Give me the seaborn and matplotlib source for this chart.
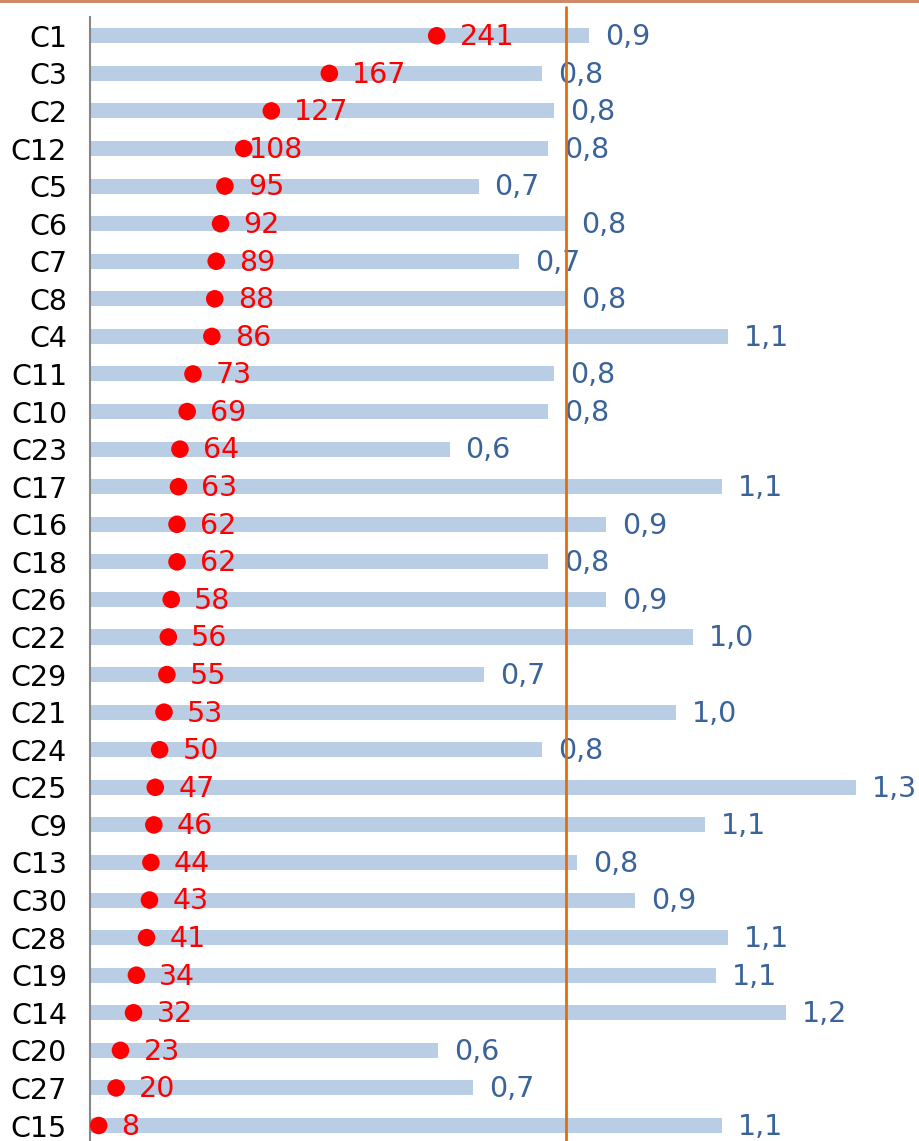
import numpy as np
import pandas as pd
import matplotlib
matplotlib.use("Agg")
import matplotlib.pyplot as plt
from matplotlib.patches import Rectangle
from matplotlib.ticker import FixedLocator
import seaborn as sns

# Categories, top to bottom
categories = ["C1", "C3", "C2", "C12", "C5", "C6", "C7", "C8", "C4", "C11",
              "C10", "C23", "C17", "C16", "C18", "C26", "C22", "C29", "C21", "C24",
              "C25", "C9", "C13", "C30", "C28", "C19", "C14", "C20", "C27", "C15"]
# Ratio per category (bars, lower axis)
ratios = [0.86, 0.78, 0.80, 0.79, 0.67, 0.82, 0.74, 0.82, 1.10, 0.80,
          0.79, 0.62, 1.09, 0.89, 0.79, 0.89, 1.04, 0.68, 1.01, 0.78,
          1.32, 1.06, 0.84, 0.94, 1.10, 1.08, 1.20, 0.60, 0.66, 1.09]
# Counts per category (red dots, secondary axis)
counts = [241, 167, 127, 108, 95, 92, 89, 88, 86, 73,
          69, 64, 63, 62, 62, 58, 56, 55, 53, 50,
          47, 46, 44, 43, 41, 34, 32, 23, 20, 8]
# Reference level on the ratio axis
reference_ratio = 0.82

df = pd.DataFrame({"cat": categories, "ratio": ratios, "count": counts})

sns.set_style("white")
plt.rcParams["font.family"] = ["DejaVu Sans"]

W, H = 920, 1141
fig = plt.figure(figsize=(W / 100, H / 100), dpi=100)

left_px, right_px = 90, 920
top_px, bottom_px = 17.0, 1144.3
ax = fig.add_axes([left_px / W, (H - bottom_px) / H,
                   (right_px - left_px) / W, (bottom_px - top_px) / H])

bar_color = "#B9CDE5"
label_blue = "#3A639A"
red = "#FF0000"
fs = 20.5
dy = 1.2  # small vertical nudge for data labels (points)

sns.barplot(data=df, x="ratio", y="cat", order=categories, orient="h",
            color=bar_color, saturation=1, width=0.4, linewidth=0,
            edgecolor="none", ax=ax, errorbar=None)

n = len(categories)
ax.set_ylim(n - 0.5, -0.5)
ax.set_xlim(0, (right_px - left_px) / 580.0)
ax.set_xlabel("")
ax.set_ylabel("")
ax.set_xticks([])

for s in ["top", "right", "bottom"]:
    ax.spines[s].set_visible(False)
ax.spines["left"].set_color("#868686")
ax.spines["left"].set_linewidth(1.5)

ax.tick_params(axis="y", which="major", length=0, pad=16.5,
               labelsize=fs, labelcolor="black")
ax.yaxis.set_minor_locator(FixedLocator(np.arange(-0.5, n, 1.0)))
ax.tick_params(axis="y", which="minor", length=7.2, width=1.5,
               color="#868686", direction="out")

# Ratio labels at the end of each bar
for i, v in enumerate(ratios):
    ax.annotate(f"{v:.1f}".replace(".", ","), xy=(v, i), xytext=(11.5, dy),
                textcoords="offset points", ha="left", va="center_baseline",
                fontsize=fs, color=label_blue, clip_on=False)

# Reference line
ax.axvline(reference_ratio, ymin=0, ymax=1.009, color="#E46C0A", lw=2.0,
           clip_on=False, zorder=4)

# Secondary axis for counts
ax2 = ax.twiny()
ax2.set_xlim(2.0, 2.0 + (right_px - left_px) / 1.4506)
sns.scatterplot(x=counts, y=np.arange(n), color=red, s=160, edgecolor="none",
                ax=ax2, zorder=5, legend=False)
ax2.set_ylim(n - 0.5, -0.5)
ax2.set_xticks([])
ax2.set_xlabel("")
for s in ax2.spines.values():
    s.set_visible(False)

label_offsets = {"C12": 3.5}
for i, (c, v) in enumerate(zip(categories, counts)):
    off = label_offsets.get(c, 16.5)
    ax2.annotate(str(v), xy=(v, i), xytext=(off, dy), textcoords="offset points",
                 ha="left", va="center_baseline", fontsize=fs, color=red, zorder=6)

# Thin frame accent along the top edge
fig.add_artist(Rectangle((0, 1 - 3 / H), 1, 3 / H, transform=fig.transFigure,
                         color="#CF8A6C", lw=0))

fig.savefig("out.png", dpi=100)
